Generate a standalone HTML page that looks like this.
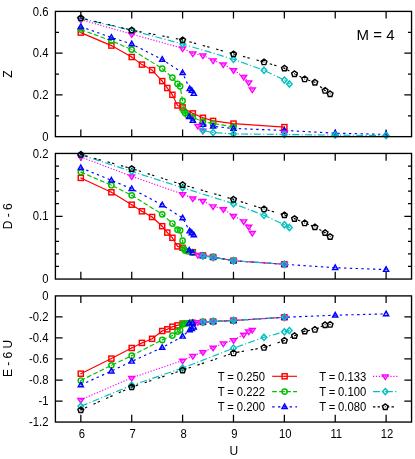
<!DOCTYPE html>
<html><head><meta charset="utf-8"><title>chart</title>
<style>html,body{margin:0;padding:0;background:#fff;}svg text.t, svg text{font-family:"Liberation Sans",sans-serif;fill:#000;}body{width:415px;height:459px;position:relative;overflow:hidden;font-family:"Liberation Sans",sans-serif;}</style>
</head><body>
<svg width="415" height="459" viewBox="0 0 415 459" style="position:absolute;left:0;top:0;will-change:transform">
<rect width="415" height="459" fill="#fff"/>
<path d="M80.84 136.65v-7.2M80.84 11.4v7.2M131.72 136.65v-7.2M131.72 11.4v7.2M182.60 136.65v-7.2M182.60 11.4v7.2M233.48 136.65v-7.2M233.48 11.4v7.2M284.35 136.65v-7.2M284.35 11.4v7.2M335.23 136.65v-7.2M335.23 11.4v7.2M386.11 136.65v-7.2M386.11 11.4v7.2M55.4 94.90h7.2M411.55 94.90h-7.2M55.4 53.15h7.2M411.55 53.15h-7.2M55.4 115.78h3.6M411.55 115.78h-3.6M55.4 74.03h3.6M411.55 74.03h-3.6M55.4 32.28h3.6M411.55 32.28h-3.6" stroke="#000" stroke-width="1.25" fill="none"/>
<text transform="translate(48.50,140.75) scale(0.925,1)" text-anchor="end" class="t" font-size="12.2">0</text>
<text transform="translate(48.50,99.00) scale(0.925,1)" text-anchor="end" class="t" font-size="12.2">0.2</text>
<text transform="translate(48.50,57.25) scale(0.925,1)" text-anchor="end" class="t" font-size="12.2">0.4</text>
<text transform="translate(48.50,15.50) scale(0.925,1)" text-anchor="end" class="t" font-size="12.2">0.6</text>
<path d="M80.8 32.6L111.4 45.6L131.7 57.0L141.9 64.6L152.1 70.1L162.2 81.1L167.3 88.0L172.4 94.8L177.5 105.5L182.6 107.4L192.8 113.4L202.9 117.8L213.1 120.9L233.5 123.6L284.4 127.1" fill="none" stroke="#ff0000" stroke-width="1.15"/>
<rect x="78.25" y="30.05" width="5.1" height="5.1" stroke="#ff0000" stroke-width="1.45" fill="none" stroke-linejoin="miter"/><rect x="80.30" y="32.10" width="1" height="1" fill="#ff0000"/>
<rect x="108.85" y="43.05" width="5.1" height="5.1" stroke="#ff0000" stroke-width="1.45" fill="none" stroke-linejoin="miter"/><rect x="110.90" y="45.10" width="1" height="1" fill="#ff0000"/>
<rect x="129.15" y="54.45" width="5.1" height="5.1" stroke="#ff0000" stroke-width="1.45" fill="none" stroke-linejoin="miter"/><rect x="131.20" y="56.50" width="1" height="1" fill="#ff0000"/>
<rect x="139.35" y="62.05" width="5.1" height="5.1" stroke="#ff0000" stroke-width="1.45" fill="none" stroke-linejoin="miter"/><rect x="141.40" y="64.10" width="1" height="1" fill="#ff0000"/>
<rect x="149.55" y="67.55" width="5.1" height="5.1" stroke="#ff0000" stroke-width="1.45" fill="none" stroke-linejoin="miter"/><rect x="151.60" y="69.60" width="1" height="1" fill="#ff0000"/>
<rect x="159.65" y="78.55" width="5.1" height="5.1" stroke="#ff0000" stroke-width="1.45" fill="none" stroke-linejoin="miter"/><rect x="161.70" y="80.60" width="1" height="1" fill="#ff0000"/>
<rect x="164.75" y="85.45" width="5.1" height="5.1" stroke="#ff0000" stroke-width="1.45" fill="none" stroke-linejoin="miter"/><rect x="166.80" y="87.50" width="1" height="1" fill="#ff0000"/>
<rect x="169.85" y="92.25" width="5.1" height="5.1" stroke="#ff0000" stroke-width="1.45" fill="none" stroke-linejoin="miter"/><rect x="171.90" y="94.30" width="1" height="1" fill="#ff0000"/>
<rect x="174.95" y="102.95" width="5.1" height="5.1" stroke="#ff0000" stroke-width="1.45" fill="none" stroke-linejoin="miter"/><rect x="177.00" y="105.00" width="1" height="1" fill="#ff0000"/>
<rect x="180.05" y="104.85" width="5.1" height="5.1" stroke="#ff0000" stroke-width="1.45" fill="none" stroke-linejoin="miter"/><rect x="182.10" y="106.90" width="1" height="1" fill="#ff0000"/>
<rect x="190.25" y="110.85" width="5.1" height="5.1" stroke="#ff0000" stroke-width="1.45" fill="none" stroke-linejoin="miter"/><rect x="192.30" y="112.90" width="1" height="1" fill="#ff0000"/>
<rect x="200.35" y="115.25" width="5.1" height="5.1" stroke="#ff0000" stroke-width="1.45" fill="none" stroke-linejoin="miter"/><rect x="202.40" y="117.30" width="1" height="1" fill="#ff0000"/>
<rect x="210.55" y="118.35" width="5.1" height="5.1" stroke="#ff0000" stroke-width="1.45" fill="none" stroke-linejoin="miter"/><rect x="212.60" y="120.40" width="1" height="1" fill="#ff0000"/>
<rect x="230.95" y="121.05" width="5.1" height="5.1" stroke="#ff0000" stroke-width="1.45" fill="none" stroke-linejoin="miter"/><rect x="233.00" y="123.10" width="1" height="1" fill="#ff0000"/>
<rect x="281.85" y="124.55" width="5.1" height="5.1" stroke="#ff0000" stroke-width="1.45" fill="none" stroke-linejoin="miter"/><rect x="283.90" y="126.60" width="1" height="1" fill="#ff0000"/>
<path d="M80.8 29.6L111.4 40.8L131.7 49.6L162.2 68.6L172.4 77.6L177.5 83.8L180.1 86.3L182.6 100.8L183.6 110.4L185.1 113.0L187.7 115.3L192.8 117.4L202.9 121.7L213.1 123.5L233.5 126.9" fill="none" stroke="#00c000" stroke-width="1.15" stroke-dasharray="4.7 2.3"/>
<circle cx="80.80" cy="29.60" r="2.65" stroke="#00c000" stroke-width="1.45" fill="none" stroke-linejoin="miter"/><rect x="80.30" y="29.10" width="1" height="1" fill="#00c000"/>
<circle cx="111.40" cy="40.80" r="2.65" stroke="#00c000" stroke-width="1.45" fill="none" stroke-linejoin="miter"/><rect x="110.90" y="40.30" width="1" height="1" fill="#00c000"/>
<circle cx="131.70" cy="49.60" r="2.65" stroke="#00c000" stroke-width="1.45" fill="none" stroke-linejoin="miter"/><rect x="131.20" y="49.10" width="1" height="1" fill="#00c000"/>
<circle cx="162.20" cy="68.60" r="2.65" stroke="#00c000" stroke-width="1.45" fill="none" stroke-linejoin="miter"/><rect x="161.70" y="68.10" width="1" height="1" fill="#00c000"/>
<circle cx="172.40" cy="77.60" r="2.65" stroke="#00c000" stroke-width="1.45" fill="none" stroke-linejoin="miter"/><rect x="171.90" y="77.10" width="1" height="1" fill="#00c000"/>
<circle cx="177.50" cy="83.80" r="2.65" stroke="#00c000" stroke-width="1.45" fill="none" stroke-linejoin="miter"/><rect x="177.00" y="83.30" width="1" height="1" fill="#00c000"/>
<circle cx="180.10" cy="86.30" r="2.65" stroke="#00c000" stroke-width="1.45" fill="none" stroke-linejoin="miter"/><rect x="179.60" y="85.80" width="1" height="1" fill="#00c000"/>
<circle cx="182.60" cy="100.80" r="2.65" stroke="#00c000" stroke-width="1.45" fill="none" stroke-linejoin="miter"/><rect x="182.10" y="100.30" width="1" height="1" fill="#00c000"/>
<circle cx="183.60" cy="110.40" r="2.65" stroke="#00c000" stroke-width="1.45" fill="none" stroke-linejoin="miter"/><rect x="183.10" y="109.90" width="1" height="1" fill="#00c000"/>
<circle cx="185.10" cy="113.00" r="2.65" stroke="#00c000" stroke-width="1.45" fill="none" stroke-linejoin="miter"/><rect x="184.60" y="112.50" width="1" height="1" fill="#00c000"/>
<circle cx="187.70" cy="115.30" r="2.65" stroke="#00c000" stroke-width="1.45" fill="none" stroke-linejoin="miter"/><rect x="187.20" y="114.80" width="1" height="1" fill="#00c000"/>
<circle cx="192.80" cy="117.40" r="2.65" stroke="#00c000" stroke-width="1.45" fill="none" stroke-linejoin="miter"/><rect x="192.30" y="116.90" width="1" height="1" fill="#00c000"/>
<circle cx="202.90" cy="121.70" r="2.65" stroke="#00c000" stroke-width="1.45" fill="none" stroke-linejoin="miter"/><rect x="202.40" y="121.20" width="1" height="1" fill="#00c000"/>
<circle cx="213.10" cy="123.50" r="2.65" stroke="#00c000" stroke-width="1.45" fill="none" stroke-linejoin="miter"/><rect x="212.60" y="123.00" width="1" height="1" fill="#00c000"/>
<circle cx="233.50" cy="126.90" r="2.65" stroke="#00c000" stroke-width="1.45" fill="none" stroke-linejoin="miter"/><rect x="233.00" y="126.40" width="1" height="1" fill="#00c000"/>
<path d="M80.8 26.7L111.4 37.5L131.7 44.0L162.2 59.5L182.6 72.8L189.7 88.8L191.8 90.6L193.8 93.6" fill="none" stroke="#0000ff" stroke-width="1.15" stroke-dasharray="2.4 3.4"/>
<path d="M189.2 116.8L192.8 120.5L202.9 124.4L213.1 126.3L233.5 128.5L284.4 130.4L335.2 133.2L386.1 134.4" fill="none" stroke="#0000ff" stroke-width="1.15" stroke-dasharray="2.4 3.4"/>
<path d="M80.80 23.90L83.35 28.45L78.25 28.45Z" stroke="#0000ff" stroke-width="1.45" fill="none" stroke-linejoin="miter"/><rect x="80.30" y="26.20" width="1" height="1" fill="#0000ff"/>
<path d="M111.40 34.70L113.95 39.25L108.85 39.25Z" stroke="#0000ff" stroke-width="1.45" fill="none" stroke-linejoin="miter"/><rect x="110.90" y="37.00" width="1" height="1" fill="#0000ff"/>
<path d="M131.70 41.20L134.25 45.75L129.15 45.75Z" stroke="#0000ff" stroke-width="1.45" fill="none" stroke-linejoin="miter"/><rect x="131.20" y="43.50" width="1" height="1" fill="#0000ff"/>
<path d="M162.20 56.70L164.75 61.25L159.65 61.25Z" stroke="#0000ff" stroke-width="1.45" fill="none" stroke-linejoin="miter"/><rect x="161.70" y="59.00" width="1" height="1" fill="#0000ff"/>
<path d="M182.60 70.00L185.15 74.55L180.05 74.55Z" stroke="#0000ff" stroke-width="1.45" fill="none" stroke-linejoin="miter"/><rect x="182.10" y="72.30" width="1" height="1" fill="#0000ff"/>
<path d="M189.70 86.00L192.25 90.55L187.15 90.55Z" stroke="#0000ff" stroke-width="1.45" fill="none" stroke-linejoin="miter"/><rect x="189.20" y="88.30" width="1" height="1" fill="#0000ff"/>
<path d="M191.80 87.80L194.35 92.35L189.25 92.35Z" stroke="#0000ff" stroke-width="1.45" fill="none" stroke-linejoin="miter"/><rect x="191.30" y="90.10" width="1" height="1" fill="#0000ff"/>
<path d="M193.80 90.80L196.35 95.35L191.25 95.35Z" stroke="#0000ff" stroke-width="1.45" fill="none" stroke-linejoin="miter"/><rect x="193.30" y="93.10" width="1" height="1" fill="#0000ff"/>
<path d="M189.20 114.00L191.75 118.55L186.65 118.55Z" stroke="#0000ff" stroke-width="1.45" fill="none" stroke-linejoin="miter"/><rect x="188.70" y="116.30" width="1" height="1" fill="#0000ff"/>
<path d="M192.80 117.70L195.35 122.25L190.25 122.25Z" stroke="#0000ff" stroke-width="1.45" fill="none" stroke-linejoin="miter"/><rect x="192.30" y="120.00" width="1" height="1" fill="#0000ff"/>
<path d="M202.90 121.60L205.45 126.15L200.35 126.15Z" stroke="#0000ff" stroke-width="1.45" fill="none" stroke-linejoin="miter"/><rect x="202.40" y="123.90" width="1" height="1" fill="#0000ff"/>
<path d="M213.10 123.50L215.65 128.05L210.55 128.05Z" stroke="#0000ff" stroke-width="1.45" fill="none" stroke-linejoin="miter"/><rect x="212.60" y="125.80" width="1" height="1" fill="#0000ff"/>
<path d="M233.50 125.70L236.05 130.25L230.95 130.25Z" stroke="#0000ff" stroke-width="1.45" fill="none" stroke-linejoin="miter"/><rect x="233.00" y="128.00" width="1" height="1" fill="#0000ff"/>
<path d="M284.40 127.60L286.95 132.15L281.85 132.15Z" stroke="#0000ff" stroke-width="1.45" fill="none" stroke-linejoin="miter"/><rect x="283.90" y="129.90" width="1" height="1" fill="#0000ff"/>
<path d="M335.20 130.40L337.75 134.95L332.65 134.95Z" stroke="#0000ff" stroke-width="1.45" fill="none" stroke-linejoin="miter"/><rect x="334.70" y="132.70" width="1" height="1" fill="#0000ff"/>
<path d="M386.10 131.60L388.65 136.15L383.55 136.15Z" stroke="#0000ff" stroke-width="1.45" fill="none" stroke-linejoin="miter"/><rect x="385.60" y="133.90" width="1" height="1" fill="#0000ff"/>
<path d="M80.8 19.6L131.7 34.1L182.6 48.3L192.8 53.4L202.9 55.4L213.1 60.4L223.3 64.3L233.5 70.1L243.7 76.8L248.7 82.2L252.3 89.4" fill="none" stroke="#ff00ff" stroke-width="1.15" stroke-dasharray="1.2 1.7"/>
<path d="M197.9 125.7L202.9 130.6" fill="none" stroke="#ff00ff" stroke-width="1.15" stroke-dasharray="1.2 1.7"/>
<path d="M80.80 22.75L83.75 18.25L77.85 18.25Z" stroke="#ff00ff" stroke-width="1.45" fill="none" stroke-linejoin="miter"/><rect x="80.30" y="19.10" width="1" height="1" fill="#ff00ff"/>
<path d="M131.70 37.25L134.65 32.75L128.75 32.75Z" stroke="#ff00ff" stroke-width="1.45" fill="none" stroke-linejoin="miter"/><rect x="131.20" y="33.60" width="1" height="1" fill="#ff00ff"/>
<path d="M182.60 51.45L185.55 46.95L179.65 46.95Z" stroke="#ff00ff" stroke-width="1.45" fill="none" stroke-linejoin="miter"/><rect x="182.10" y="47.80" width="1" height="1" fill="#ff00ff"/>
<path d="M192.80 56.55L195.75 52.05L189.85 52.05Z" stroke="#ff00ff" stroke-width="1.45" fill="none" stroke-linejoin="miter"/><rect x="192.30" y="52.90" width="1" height="1" fill="#ff00ff"/>
<path d="M202.90 58.55L205.85 54.05L199.95 54.05Z" stroke="#ff00ff" stroke-width="1.45" fill="none" stroke-linejoin="miter"/><rect x="202.40" y="54.90" width="1" height="1" fill="#ff00ff"/>
<path d="M213.10 63.55L216.05 59.05L210.15 59.05Z" stroke="#ff00ff" stroke-width="1.45" fill="none" stroke-linejoin="miter"/><rect x="212.60" y="59.90" width="1" height="1" fill="#ff00ff"/>
<path d="M223.30 67.45L226.25 62.95L220.35 62.95Z" stroke="#ff00ff" stroke-width="1.45" fill="none" stroke-linejoin="miter"/><rect x="222.80" y="63.80" width="1" height="1" fill="#ff00ff"/>
<path d="M233.50 73.25L236.45 68.75L230.55 68.75Z" stroke="#ff00ff" stroke-width="1.45" fill="none" stroke-linejoin="miter"/><rect x="233.00" y="69.60" width="1" height="1" fill="#ff00ff"/>
<path d="M243.70 79.95L246.65 75.45L240.75 75.45Z" stroke="#ff00ff" stroke-width="1.45" fill="none" stroke-linejoin="miter"/><rect x="243.20" y="76.30" width="1" height="1" fill="#ff00ff"/>
<path d="M248.70 85.35L251.65 80.85L245.75 80.85Z" stroke="#ff00ff" stroke-width="1.45" fill="none" stroke-linejoin="miter"/><rect x="248.20" y="81.70" width="1" height="1" fill="#ff00ff"/>
<path d="M252.30 92.55L255.25 88.05L249.35 88.05Z" stroke="#ff00ff" stroke-width="1.45" fill="none" stroke-linejoin="miter"/><rect x="251.80" y="88.90" width="1" height="1" fill="#ff00ff"/>
<path d="M197.90 128.85L200.85 124.35L194.95 124.35Z" stroke="#ff00ff" stroke-width="1.45" fill="none" stroke-linejoin="miter"/><rect x="197.40" y="125.20" width="1" height="1" fill="#ff00ff"/>
<path d="M202.90 133.75L205.85 129.25L199.95 129.25Z" stroke="#ff00ff" stroke-width="1.45" fill="none" stroke-linejoin="miter"/><rect x="202.40" y="130.10" width="1" height="1" fill="#ff00ff"/>
<path d="M284.40 135.75L287.35 131.25L281.45 131.25Z" stroke="#ff00ff" stroke-width="1.45" fill="none" stroke-linejoin="miter"/><rect x="283.90" y="132.10" width="1" height="1" fill="#ff00ff"/>
<path d="M80.8 18.4L131.7 30.4L182.6 44.0L233.5 59.3L264.0 70.3L284.4 80.1L289.4 84.0" fill="none" stroke="#00c0c0" stroke-width="1.15" stroke-dasharray="7.0 2.3 1.2 2.3"/>
<path d="M202.9 130.5L213.1 132.6L233.5 133.9L284.4 134.5L335.2 135.1L386.1 135.5" fill="none" stroke="#00c0c0" stroke-width="1.15" stroke-dasharray="7.0 2.3 1.2 2.3"/>
<path d="M80.80 15.30L83.55 18.40L80.80 21.50L78.05 18.40Z" stroke="#00c0c0" stroke-width="1.45" fill="none" stroke-linejoin="miter"/><rect x="80.30" y="17.90" width="1" height="1" fill="#00c0c0"/>
<path d="M131.70 27.30L134.45 30.40L131.70 33.50L128.95 30.40Z" stroke="#00c0c0" stroke-width="1.45" fill="none" stroke-linejoin="miter"/><rect x="131.20" y="29.90" width="1" height="1" fill="#00c0c0"/>
<path d="M182.60 40.90L185.35 44.00L182.60 47.10L179.85 44.00Z" stroke="#00c0c0" stroke-width="1.45" fill="none" stroke-linejoin="miter"/><rect x="182.10" y="43.50" width="1" height="1" fill="#00c0c0"/>
<path d="M233.50 56.20L236.25 59.30L233.50 62.40L230.75 59.30Z" stroke="#00c0c0" stroke-width="1.45" fill="none" stroke-linejoin="miter"/><rect x="233.00" y="58.80" width="1" height="1" fill="#00c0c0"/>
<path d="M264.00 67.20L266.75 70.30L264.00 73.40L261.25 70.30Z" stroke="#00c0c0" stroke-width="1.45" fill="none" stroke-linejoin="miter"/><rect x="263.50" y="69.80" width="1" height="1" fill="#00c0c0"/>
<path d="M284.40 77.00L287.15 80.10L284.40 83.20L281.65 80.10Z" stroke="#00c0c0" stroke-width="1.45" fill="none" stroke-linejoin="miter"/><rect x="283.90" y="79.60" width="1" height="1" fill="#00c0c0"/>
<path d="M289.40 80.90L292.15 84.00L289.40 87.10L286.65 84.00Z" stroke="#00c0c0" stroke-width="1.45" fill="none" stroke-linejoin="miter"/><rect x="288.90" y="83.50" width="1" height="1" fill="#00c0c0"/>
<path d="M202.90 127.40L205.65 130.50L202.90 133.60L200.15 130.50Z" stroke="#00c0c0" stroke-width="1.45" fill="none" stroke-linejoin="miter"/><rect x="202.40" y="130.00" width="1" height="1" fill="#00c0c0"/>
<path d="M213.10 129.50L215.85 132.60L213.10 135.70L210.35 132.60Z" stroke="#00c0c0" stroke-width="1.45" fill="none" stroke-linejoin="miter"/><rect x="212.60" y="132.10" width="1" height="1" fill="#00c0c0"/>
<path d="M233.50 130.80L236.25 133.90L233.50 137.00L230.75 133.90Z" stroke="#00c0c0" stroke-width="1.45" fill="none" stroke-linejoin="miter"/><rect x="233.00" y="133.40" width="1" height="1" fill="#00c0c0"/>
<path d="M284.40 131.40L287.15 134.50L284.40 137.60L281.65 134.50Z" stroke="#00c0c0" stroke-width="1.45" fill="none" stroke-linejoin="miter"/><rect x="283.90" y="134.00" width="1" height="1" fill="#00c0c0"/>
<path d="M335.20 132.00L337.95 135.10L335.20 138.20L332.45 135.10Z" stroke="#00c0c0" stroke-width="1.45" fill="none" stroke-linejoin="miter"/><rect x="334.70" y="134.60" width="1" height="1" fill="#00c0c0"/>
<path d="M386.10 132.40L388.85 135.50L386.10 138.60L383.35 135.50Z" stroke="#00c0c0" stroke-width="1.45" fill="none" stroke-linejoin="miter"/><rect x="385.60" y="135.00" width="1" height="1" fill="#00c0c0"/>
<path d="M80.8 18.0L131.7 30.1L182.6 39.9L233.5 53.9L264.0 62.0L284.4 68.2L294.5 73.8L304.7 79.0L314.9 82.3L325.1 90.5L330.1 93.8" fill="none" stroke="#000000" stroke-width="1.15" stroke-dasharray="2.4 2.2 2.4 6.9"/>
<path d="M80.80 15.20L83.65 17.27L82.56 20.63L79.04 20.63L77.95 17.27Z" stroke="#000000" stroke-width="1.45" fill="none" stroke-linejoin="miter"/><rect x="80.30" y="17.50" width="1" height="1" fill="#000000"/>
<path d="M131.70 27.30L134.55 29.37L133.46 32.73L129.94 32.73L128.85 29.37Z" stroke="#000000" stroke-width="1.45" fill="none" stroke-linejoin="miter"/><rect x="131.20" y="29.60" width="1" height="1" fill="#000000"/>
<path d="M182.60 37.10L185.45 39.17L184.36 42.53L180.84 42.53L179.75 39.17Z" stroke="#000000" stroke-width="1.45" fill="none" stroke-linejoin="miter"/><rect x="182.10" y="39.40" width="1" height="1" fill="#000000"/>
<path d="M233.50 51.10L236.35 53.17L235.26 56.53L231.74 56.53L230.65 53.17Z" stroke="#000000" stroke-width="1.45" fill="none" stroke-linejoin="miter"/><rect x="233.00" y="53.40" width="1" height="1" fill="#000000"/>
<path d="M264.00 59.20L266.85 61.27L265.76 64.63L262.24 64.63L261.15 61.27Z" stroke="#000000" stroke-width="1.45" fill="none" stroke-linejoin="miter"/><rect x="263.50" y="61.50" width="1" height="1" fill="#000000"/>
<path d="M284.40 65.40L287.25 67.47L286.16 70.83L282.64 70.83L281.55 67.47Z" stroke="#000000" stroke-width="1.45" fill="none" stroke-linejoin="miter"/><rect x="283.90" y="67.70" width="1" height="1" fill="#000000"/>
<path d="M294.50 71.00L297.35 73.07L296.26 76.43L292.74 76.43L291.65 73.07Z" stroke="#000000" stroke-width="1.45" fill="none" stroke-linejoin="miter"/><rect x="294.00" y="73.30" width="1" height="1" fill="#000000"/>
<path d="M304.70 76.20L307.55 78.27L306.46 81.63L302.94 81.63L301.85 78.27Z" stroke="#000000" stroke-width="1.45" fill="none" stroke-linejoin="miter"/><rect x="304.20" y="78.50" width="1" height="1" fill="#000000"/>
<path d="M314.90 79.50L317.75 81.57L316.66 84.93L313.14 84.93L312.05 81.57Z" stroke="#000000" stroke-width="1.45" fill="none" stroke-linejoin="miter"/><rect x="314.40" y="81.80" width="1" height="1" fill="#000000"/>
<path d="M325.10 87.70L327.95 89.77L326.86 93.13L323.34 93.13L322.25 89.77Z" stroke="#000000" stroke-width="1.45" fill="none" stroke-linejoin="miter"/><rect x="324.60" y="90.00" width="1" height="1" fill="#000000"/>
<path d="M330.10 91.00L332.95 93.07L331.86 96.43L328.34 96.43L327.25 93.07Z" stroke="#000000" stroke-width="1.45" fill="none" stroke-linejoin="miter"/><rect x="329.60" y="93.30" width="1" height="1" fill="#000000"/>
<path d="M80.84 279.05v-7.2M80.84 153.45v7.2M131.72 279.05v-7.2M131.72 153.45v7.2M182.60 279.05v-7.2M182.60 153.45v7.2M233.48 279.05v-7.2M233.48 153.45v7.2M284.35 279.05v-7.2M284.35 153.45v7.2M335.23 279.05v-7.2M335.23 153.45v7.2M386.11 279.05v-7.2M386.11 153.45v7.2M55.4 216.25h7.2M411.55 216.25h-7.2M55.4 266.49h3.6M411.55 266.49h-3.6M55.4 253.93h3.6M411.55 253.93h-3.6M55.4 241.37h3.6M411.55 241.37h-3.6M55.4 228.81h3.6M411.55 228.81h-3.6M55.4 203.69h3.6M411.55 203.69h-3.6M55.4 191.13h3.6M411.55 191.13h-3.6M55.4 178.57h3.6M411.55 178.57h-3.6M55.4 166.01h3.6M411.55 166.01h-3.6" stroke="#000" stroke-width="1.25" fill="none"/>
<text transform="translate(48.50,283.15) scale(0.925,1)" text-anchor="end" class="t" font-size="12.2">0</text>
<text transform="translate(48.50,220.35) scale(0.925,1)" text-anchor="end" class="t" font-size="12.2">0.1</text>
<text transform="translate(48.50,157.55) scale(0.925,1)" text-anchor="end" class="t" font-size="12.2">0.2</text>
<path d="M80.8 177.9L111.4 192.3L131.7 204.7L141.9 211.3L152.1 217.0L162.2 226.2L167.3 232.6L172.4 237.8L177.5 246.4L182.6 247.8L192.8 252.2L202.9 255.4L213.1 257.0L233.5 260.7L284.4 264.3" fill="none" stroke="#ff0000" stroke-width="1.15"/>
<rect x="78.25" y="175.35" width="5.1" height="5.1" stroke="#ff0000" stroke-width="1.45" fill="none" stroke-linejoin="miter"/><rect x="80.30" y="177.40" width="1" height="1" fill="#ff0000"/>
<rect x="108.85" y="189.75" width="5.1" height="5.1" stroke="#ff0000" stroke-width="1.45" fill="none" stroke-linejoin="miter"/><rect x="110.90" y="191.80" width="1" height="1" fill="#ff0000"/>
<rect x="129.15" y="202.15" width="5.1" height="5.1" stroke="#ff0000" stroke-width="1.45" fill="none" stroke-linejoin="miter"/><rect x="131.20" y="204.20" width="1" height="1" fill="#ff0000"/>
<rect x="139.35" y="208.75" width="5.1" height="5.1" stroke="#ff0000" stroke-width="1.45" fill="none" stroke-linejoin="miter"/><rect x="141.40" y="210.80" width="1" height="1" fill="#ff0000"/>
<rect x="149.55" y="214.45" width="5.1" height="5.1" stroke="#ff0000" stroke-width="1.45" fill="none" stroke-linejoin="miter"/><rect x="151.60" y="216.50" width="1" height="1" fill="#ff0000"/>
<rect x="159.65" y="223.65" width="5.1" height="5.1" stroke="#ff0000" stroke-width="1.45" fill="none" stroke-linejoin="miter"/><rect x="161.70" y="225.70" width="1" height="1" fill="#ff0000"/>
<rect x="164.75" y="230.05" width="5.1" height="5.1" stroke="#ff0000" stroke-width="1.45" fill="none" stroke-linejoin="miter"/><rect x="166.80" y="232.10" width="1" height="1" fill="#ff0000"/>
<rect x="169.85" y="235.25" width="5.1" height="5.1" stroke="#ff0000" stroke-width="1.45" fill="none" stroke-linejoin="miter"/><rect x="171.90" y="237.30" width="1" height="1" fill="#ff0000"/>
<rect x="174.95" y="243.85" width="5.1" height="5.1" stroke="#ff0000" stroke-width="1.45" fill="none" stroke-linejoin="miter"/><rect x="177.00" y="245.90" width="1" height="1" fill="#ff0000"/>
<rect x="180.05" y="245.25" width="5.1" height="5.1" stroke="#ff0000" stroke-width="1.45" fill="none" stroke-linejoin="miter"/><rect x="182.10" y="247.30" width="1" height="1" fill="#ff0000"/>
<rect x="190.25" y="249.65" width="5.1" height="5.1" stroke="#ff0000" stroke-width="1.45" fill="none" stroke-linejoin="miter"/><rect x="192.30" y="251.70" width="1" height="1" fill="#ff0000"/>
<rect x="200.35" y="252.85" width="5.1" height="5.1" stroke="#ff0000" stroke-width="1.45" fill="none" stroke-linejoin="miter"/><rect x="202.40" y="254.90" width="1" height="1" fill="#ff0000"/>
<rect x="210.55" y="254.45" width="5.1" height="5.1" stroke="#ff0000" stroke-width="1.45" fill="none" stroke-linejoin="miter"/><rect x="212.60" y="256.50" width="1" height="1" fill="#ff0000"/>
<rect x="230.95" y="258.15" width="5.1" height="5.1" stroke="#ff0000" stroke-width="1.45" fill="none" stroke-linejoin="miter"/><rect x="233.00" y="260.20" width="1" height="1" fill="#ff0000"/>
<rect x="281.85" y="261.75" width="5.1" height="5.1" stroke="#ff0000" stroke-width="1.45" fill="none" stroke-linejoin="miter"/><rect x="283.90" y="263.80" width="1" height="1" fill="#ff0000"/>
<path d="M80.8 172.1L111.4 185.2L131.7 195.3L162.2 214.3L172.4 223.5L177.5 229.7L180.1 230.3L182.6 240.7L183.6 248.4L185.1 250.5L187.7 251.3L192.8 252.6L202.9 255.6L213.1 257.2L233.5 260.7" fill="none" stroke="#00c000" stroke-width="1.15" stroke-dasharray="4.7 2.3"/>
<circle cx="80.80" cy="172.10" r="2.65" stroke="#00c000" stroke-width="1.45" fill="none" stroke-linejoin="miter"/><rect x="80.30" y="171.60" width="1" height="1" fill="#00c000"/>
<circle cx="111.40" cy="185.20" r="2.65" stroke="#00c000" stroke-width="1.45" fill="none" stroke-linejoin="miter"/><rect x="110.90" y="184.70" width="1" height="1" fill="#00c000"/>
<circle cx="131.70" cy="195.30" r="2.65" stroke="#00c000" stroke-width="1.45" fill="none" stroke-linejoin="miter"/><rect x="131.20" y="194.80" width="1" height="1" fill="#00c000"/>
<circle cx="162.20" cy="214.30" r="2.65" stroke="#00c000" stroke-width="1.45" fill="none" stroke-linejoin="miter"/><rect x="161.70" y="213.80" width="1" height="1" fill="#00c000"/>
<circle cx="172.40" cy="223.50" r="2.65" stroke="#00c000" stroke-width="1.45" fill="none" stroke-linejoin="miter"/><rect x="171.90" y="223.00" width="1" height="1" fill="#00c000"/>
<circle cx="177.50" cy="229.70" r="2.65" stroke="#00c000" stroke-width="1.45" fill="none" stroke-linejoin="miter"/><rect x="177.00" y="229.20" width="1" height="1" fill="#00c000"/>
<circle cx="180.10" cy="230.30" r="2.65" stroke="#00c000" stroke-width="1.45" fill="none" stroke-linejoin="miter"/><rect x="179.60" y="229.80" width="1" height="1" fill="#00c000"/>
<circle cx="182.60" cy="240.70" r="2.65" stroke="#00c000" stroke-width="1.45" fill="none" stroke-linejoin="miter"/><rect x="182.10" y="240.20" width="1" height="1" fill="#00c000"/>
<circle cx="183.60" cy="248.40" r="2.65" stroke="#00c000" stroke-width="1.45" fill="none" stroke-linejoin="miter"/><rect x="183.10" y="247.90" width="1" height="1" fill="#00c000"/>
<circle cx="185.10" cy="250.50" r="2.65" stroke="#00c000" stroke-width="1.45" fill="none" stroke-linejoin="miter"/><rect x="184.60" y="250.00" width="1" height="1" fill="#00c000"/>
<circle cx="187.70" cy="251.30" r="2.65" stroke="#00c000" stroke-width="1.45" fill="none" stroke-linejoin="miter"/><rect x="187.20" y="250.80" width="1" height="1" fill="#00c000"/>
<circle cx="192.80" cy="252.60" r="2.65" stroke="#00c000" stroke-width="1.45" fill="none" stroke-linejoin="miter"/><rect x="192.30" y="252.10" width="1" height="1" fill="#00c000"/>
<circle cx="202.90" cy="255.60" r="2.65" stroke="#00c000" stroke-width="1.45" fill="none" stroke-linejoin="miter"/><rect x="202.40" y="255.10" width="1" height="1" fill="#00c000"/>
<circle cx="213.10" cy="257.20" r="2.65" stroke="#00c000" stroke-width="1.45" fill="none" stroke-linejoin="miter"/><rect x="212.60" y="256.70" width="1" height="1" fill="#00c000"/>
<circle cx="233.50" cy="260.70" r="2.65" stroke="#00c000" stroke-width="1.45" fill="none" stroke-linejoin="miter"/><rect x="233.00" y="260.20" width="1" height="1" fill="#00c000"/>
<path d="M80.8 167.8L111.4 180.3L131.7 188.8L162.2 205.0L182.6 218.0L189.7 231.1L191.8 232.9L193.8 235.0" fill="none" stroke="#0000ff" stroke-width="1.15" stroke-dasharray="2.4 3.4"/>
<path d="M189.2 250.3L192.8 252.7L202.9 255.8L213.1 257.3L233.5 260.7L284.4 264.3L335.2 267.7L386.1 269.6" fill="none" stroke="#0000ff" stroke-width="1.15" stroke-dasharray="2.4 3.4"/>
<path d="M80.80 165.00L83.35 169.55L78.25 169.55Z" stroke="#0000ff" stroke-width="1.45" fill="none" stroke-linejoin="miter"/><rect x="80.30" y="167.30" width="1" height="1" fill="#0000ff"/>
<path d="M111.40 177.50L113.95 182.05L108.85 182.05Z" stroke="#0000ff" stroke-width="1.45" fill="none" stroke-linejoin="miter"/><rect x="110.90" y="179.80" width="1" height="1" fill="#0000ff"/>
<path d="M131.70 186.00L134.25 190.55L129.15 190.55Z" stroke="#0000ff" stroke-width="1.45" fill="none" stroke-linejoin="miter"/><rect x="131.20" y="188.30" width="1" height="1" fill="#0000ff"/>
<path d="M162.20 202.20L164.75 206.75L159.65 206.75Z" stroke="#0000ff" stroke-width="1.45" fill="none" stroke-linejoin="miter"/><rect x="161.70" y="204.50" width="1" height="1" fill="#0000ff"/>
<path d="M182.60 215.20L185.15 219.75L180.05 219.75Z" stroke="#0000ff" stroke-width="1.45" fill="none" stroke-linejoin="miter"/><rect x="182.10" y="217.50" width="1" height="1" fill="#0000ff"/>
<path d="M189.70 228.30L192.25 232.85L187.15 232.85Z" stroke="#0000ff" stroke-width="1.45" fill="none" stroke-linejoin="miter"/><rect x="189.20" y="230.60" width="1" height="1" fill="#0000ff"/>
<path d="M191.80 230.10L194.35 234.65L189.25 234.65Z" stroke="#0000ff" stroke-width="1.45" fill="none" stroke-linejoin="miter"/><rect x="191.30" y="232.40" width="1" height="1" fill="#0000ff"/>
<path d="M193.80 232.20L196.35 236.75L191.25 236.75Z" stroke="#0000ff" stroke-width="1.45" fill="none" stroke-linejoin="miter"/><rect x="193.30" y="234.50" width="1" height="1" fill="#0000ff"/>
<path d="M189.20 247.50L191.75 252.05L186.65 252.05Z" stroke="#0000ff" stroke-width="1.45" fill="none" stroke-linejoin="miter"/><rect x="188.70" y="249.80" width="1" height="1" fill="#0000ff"/>
<path d="M192.80 249.90L195.35 254.45L190.25 254.45Z" stroke="#0000ff" stroke-width="1.45" fill="none" stroke-linejoin="miter"/><rect x="192.30" y="252.20" width="1" height="1" fill="#0000ff"/>
<path d="M202.90 253.00L205.45 257.55L200.35 257.55Z" stroke="#0000ff" stroke-width="1.45" fill="none" stroke-linejoin="miter"/><rect x="202.40" y="255.30" width="1" height="1" fill="#0000ff"/>
<path d="M213.10 254.50L215.65 259.05L210.55 259.05Z" stroke="#0000ff" stroke-width="1.45" fill="none" stroke-linejoin="miter"/><rect x="212.60" y="256.80" width="1" height="1" fill="#0000ff"/>
<path d="M233.50 257.90L236.05 262.45L230.95 262.45Z" stroke="#0000ff" stroke-width="1.45" fill="none" stroke-linejoin="miter"/><rect x="233.00" y="260.20" width="1" height="1" fill="#0000ff"/>
<path d="M284.40 261.50L286.95 266.05L281.85 266.05Z" stroke="#0000ff" stroke-width="1.45" fill="none" stroke-linejoin="miter"/><rect x="283.90" y="263.80" width="1" height="1" fill="#0000ff"/>
<path d="M335.20 264.90L337.75 269.45L332.65 269.45Z" stroke="#0000ff" stroke-width="1.45" fill="none" stroke-linejoin="miter"/><rect x="334.70" y="267.20" width="1" height="1" fill="#0000ff"/>
<path d="M386.10 266.80L388.65 271.35L383.55 271.35Z" stroke="#0000ff" stroke-width="1.45" fill="none" stroke-linejoin="miter"/><rect x="385.60" y="269.10" width="1" height="1" fill="#0000ff"/>
<path d="M80.8 156.9L131.7 176.3L182.6 194.1L192.8 198.3L202.9 200.8L213.1 206.2L223.3 209.1L233.5 215.8L243.7 221.2L248.7 226.5L252.3 232.8" fill="none" stroke="#ff00ff" stroke-width="1.15" stroke-dasharray="1.2 1.7"/>
<path d="M197.9 254.9L202.9 255.9L213.1 257.3L233.5 260.7L284.4 264.3" fill="none" stroke="#ff00ff" stroke-width="1.15" stroke-dasharray="1.2 1.7"/>
<path d="M80.80 160.05L83.75 155.55L77.85 155.55Z" stroke="#ff00ff" stroke-width="1.45" fill="none" stroke-linejoin="miter"/><rect x="80.30" y="156.40" width="1" height="1" fill="#ff00ff"/>
<path d="M131.70 179.45L134.65 174.95L128.75 174.95Z" stroke="#ff00ff" stroke-width="1.45" fill="none" stroke-linejoin="miter"/><rect x="131.20" y="175.80" width="1" height="1" fill="#ff00ff"/>
<path d="M182.60 197.25L185.55 192.75L179.65 192.75Z" stroke="#ff00ff" stroke-width="1.45" fill="none" stroke-linejoin="miter"/><rect x="182.10" y="193.60" width="1" height="1" fill="#ff00ff"/>
<path d="M192.80 201.45L195.75 196.95L189.85 196.95Z" stroke="#ff00ff" stroke-width="1.45" fill="none" stroke-linejoin="miter"/><rect x="192.30" y="197.80" width="1" height="1" fill="#ff00ff"/>
<path d="M202.90 203.95L205.85 199.45L199.95 199.45Z" stroke="#ff00ff" stroke-width="1.45" fill="none" stroke-linejoin="miter"/><rect x="202.40" y="200.30" width="1" height="1" fill="#ff00ff"/>
<path d="M213.10 209.35L216.05 204.85L210.15 204.85Z" stroke="#ff00ff" stroke-width="1.45" fill="none" stroke-linejoin="miter"/><rect x="212.60" y="205.70" width="1" height="1" fill="#ff00ff"/>
<path d="M223.30 212.25L226.25 207.75L220.35 207.75Z" stroke="#ff00ff" stroke-width="1.45" fill="none" stroke-linejoin="miter"/><rect x="222.80" y="208.60" width="1" height="1" fill="#ff00ff"/>
<path d="M233.50 218.95L236.45 214.45L230.55 214.45Z" stroke="#ff00ff" stroke-width="1.45" fill="none" stroke-linejoin="miter"/><rect x="233.00" y="215.30" width="1" height="1" fill="#ff00ff"/>
<path d="M243.70 224.35L246.65 219.85L240.75 219.85Z" stroke="#ff00ff" stroke-width="1.45" fill="none" stroke-linejoin="miter"/><rect x="243.20" y="220.70" width="1" height="1" fill="#ff00ff"/>
<path d="M248.70 229.65L251.65 225.15L245.75 225.15Z" stroke="#ff00ff" stroke-width="1.45" fill="none" stroke-linejoin="miter"/><rect x="248.20" y="226.00" width="1" height="1" fill="#ff00ff"/>
<path d="M252.30 235.95L255.25 231.45L249.35 231.45Z" stroke="#ff00ff" stroke-width="1.45" fill="none" stroke-linejoin="miter"/><rect x="251.80" y="232.30" width="1" height="1" fill="#ff00ff"/>
<path d="M197.90 258.05L200.85 253.55L194.95 253.55Z" stroke="#ff00ff" stroke-width="1.45" fill="none" stroke-linejoin="miter"/><rect x="197.40" y="254.40" width="1" height="1" fill="#ff00ff"/>
<path d="M202.90 259.05L205.85 254.55L199.95 254.55Z" stroke="#ff00ff" stroke-width="1.45" fill="none" stroke-linejoin="miter"/><rect x="202.40" y="255.40" width="1" height="1" fill="#ff00ff"/>
<path d="M213.10 260.45L216.05 255.95L210.15 255.95Z" stroke="#ff00ff" stroke-width="1.45" fill="none" stroke-linejoin="miter"/><rect x="212.60" y="256.80" width="1" height="1" fill="#ff00ff"/>
<path d="M233.50 263.85L236.45 259.35L230.55 259.35Z" stroke="#ff00ff" stroke-width="1.45" fill="none" stroke-linejoin="miter"/><rect x="233.00" y="260.20" width="1" height="1" fill="#ff00ff"/>
<path d="M284.40 267.45L287.35 262.95L281.45 262.95Z" stroke="#ff00ff" stroke-width="1.45" fill="none" stroke-linejoin="miter"/><rect x="283.90" y="263.80" width="1" height="1" fill="#ff00ff"/>
<path d="M80.8 154.7L131.7 171.4L182.6 187.7L233.5 203.7L264.0 215.3L284.4 224.7L289.4 227.5" fill="none" stroke="#00c0c0" stroke-width="1.15" stroke-dasharray="7.0 2.3 1.2 2.3"/>
<path d="M202.9 256.0L213.1 257.4L233.5 260.7L284.4 264.3" fill="none" stroke="#00c0c0" stroke-width="1.15" stroke-dasharray="7.0 2.3 1.2 2.3"/>
<path d="M80.80 151.60L83.55 154.70L80.80 157.80L78.05 154.70Z" stroke="#00c0c0" stroke-width="1.45" fill="none" stroke-linejoin="miter"/><rect x="80.30" y="154.20" width="1" height="1" fill="#00c0c0"/>
<path d="M131.70 168.30L134.45 171.40L131.70 174.50L128.95 171.40Z" stroke="#00c0c0" stroke-width="1.45" fill="none" stroke-linejoin="miter"/><rect x="131.20" y="170.90" width="1" height="1" fill="#00c0c0"/>
<path d="M182.60 184.60L185.35 187.70L182.60 190.80L179.85 187.70Z" stroke="#00c0c0" stroke-width="1.45" fill="none" stroke-linejoin="miter"/><rect x="182.10" y="187.20" width="1" height="1" fill="#00c0c0"/>
<path d="M233.50 200.60L236.25 203.70L233.50 206.80L230.75 203.70Z" stroke="#00c0c0" stroke-width="1.45" fill="none" stroke-linejoin="miter"/><rect x="233.00" y="203.20" width="1" height="1" fill="#00c0c0"/>
<path d="M264.00 212.20L266.75 215.30L264.00 218.40L261.25 215.30Z" stroke="#00c0c0" stroke-width="1.45" fill="none" stroke-linejoin="miter"/><rect x="263.50" y="214.80" width="1" height="1" fill="#00c0c0"/>
<path d="M284.40 221.60L287.15 224.70L284.40 227.80L281.65 224.70Z" stroke="#00c0c0" stroke-width="1.45" fill="none" stroke-linejoin="miter"/><rect x="283.90" y="224.20" width="1" height="1" fill="#00c0c0"/>
<path d="M289.40 224.40L292.15 227.50L289.40 230.60L286.65 227.50Z" stroke="#00c0c0" stroke-width="1.45" fill="none" stroke-linejoin="miter"/><rect x="288.90" y="227.00" width="1" height="1" fill="#00c0c0"/>
<path d="M202.90 252.90L205.65 256.00L202.90 259.10L200.15 256.00Z" stroke="#00c0c0" stroke-width="1.45" fill="none" stroke-linejoin="miter"/><rect x="202.40" y="255.50" width="1" height="1" fill="#00c0c0"/>
<path d="M213.10 254.30L215.85 257.40L213.10 260.50L210.35 257.40Z" stroke="#00c0c0" stroke-width="1.45" fill="none" stroke-linejoin="miter"/><rect x="212.60" y="256.90" width="1" height="1" fill="#00c0c0"/>
<path d="M233.50 257.60L236.25 260.70L233.50 263.80L230.75 260.70Z" stroke="#00c0c0" stroke-width="1.45" fill="none" stroke-linejoin="miter"/><rect x="233.00" y="260.20" width="1" height="1" fill="#00c0c0"/>
<path d="M284.40 261.20L287.15 264.30L284.40 267.40L281.65 264.30Z" stroke="#00c0c0" stroke-width="1.45" fill="none" stroke-linejoin="miter"/><rect x="283.90" y="263.80" width="1" height="1" fill="#00c0c0"/>
<path d="M80.8 154.5L131.7 168.6L182.6 184.7L233.5 199.3L264.0 209.0L284.4 214.9L294.5 218.6L304.7 223.0L314.9 226.9L325.1 232.7L330.1 236.6" fill="none" stroke="#000000" stroke-width="1.15" stroke-dasharray="2.4 2.2 2.4 6.9"/>
<path d="M80.80 151.70L83.65 153.77L82.56 157.13L79.04 157.13L77.95 153.77Z" stroke="#000000" stroke-width="1.45" fill="none" stroke-linejoin="miter"/><rect x="80.30" y="154.00" width="1" height="1" fill="#000000"/>
<path d="M131.70 165.80L134.55 167.87L133.46 171.23L129.94 171.23L128.85 167.87Z" stroke="#000000" stroke-width="1.45" fill="none" stroke-linejoin="miter"/><rect x="131.20" y="168.10" width="1" height="1" fill="#000000"/>
<path d="M182.60 181.90L185.45 183.97L184.36 187.33L180.84 187.33L179.75 183.97Z" stroke="#000000" stroke-width="1.45" fill="none" stroke-linejoin="miter"/><rect x="182.10" y="184.20" width="1" height="1" fill="#000000"/>
<path d="M233.50 196.50L236.35 198.57L235.26 201.93L231.74 201.93L230.65 198.57Z" stroke="#000000" stroke-width="1.45" fill="none" stroke-linejoin="miter"/><rect x="233.00" y="198.80" width="1" height="1" fill="#000000"/>
<path d="M264.00 206.20L266.85 208.27L265.76 211.63L262.24 211.63L261.15 208.27Z" stroke="#000000" stroke-width="1.45" fill="none" stroke-linejoin="miter"/><rect x="263.50" y="208.50" width="1" height="1" fill="#000000"/>
<path d="M284.40 212.10L287.25 214.17L286.16 217.53L282.64 217.53L281.55 214.17Z" stroke="#000000" stroke-width="1.45" fill="none" stroke-linejoin="miter"/><rect x="283.90" y="214.40" width="1" height="1" fill="#000000"/>
<path d="M294.50 215.80L297.35 217.87L296.26 221.23L292.74 221.23L291.65 217.87Z" stroke="#000000" stroke-width="1.45" fill="none" stroke-linejoin="miter"/><rect x="294.00" y="218.10" width="1" height="1" fill="#000000"/>
<path d="M304.70 220.20L307.55 222.27L306.46 225.63L302.94 225.63L301.85 222.27Z" stroke="#000000" stroke-width="1.45" fill="none" stroke-linejoin="miter"/><rect x="304.20" y="222.50" width="1" height="1" fill="#000000"/>
<path d="M314.90 224.10L317.75 226.17L316.66 229.53L313.14 229.53L312.05 226.17Z" stroke="#000000" stroke-width="1.45" fill="none" stroke-linejoin="miter"/><rect x="314.40" y="226.40" width="1" height="1" fill="#000000"/>
<path d="M325.10 229.90L327.95 231.97L326.86 235.33L323.34 235.33L322.25 231.97Z" stroke="#000000" stroke-width="1.45" fill="none" stroke-linejoin="miter"/><rect x="324.60" y="232.20" width="1" height="1" fill="#000000"/>
<path d="M330.10 233.80L332.95 235.87L331.86 239.23L328.34 239.23L327.25 235.87Z" stroke="#000000" stroke-width="1.45" fill="none" stroke-linejoin="miter"/><rect x="329.60" y="236.10" width="1" height="1" fill="#000000"/>
<path d="M80.84 422.05v-7.2M80.84 295.9v7.2M131.72 422.05v-7.2M131.72 295.9v7.2M182.60 422.05v-7.2M182.60 295.9v7.2M233.48 422.05v-7.2M233.48 295.9v7.2M284.35 422.05v-7.2M284.35 295.9v7.2M335.23 422.05v-7.2M335.23 295.9v7.2M386.11 422.05v-7.2M386.11 295.9v7.2M55.4 316.92h7.2M411.55 316.92h-7.2M55.4 337.95h7.2M411.55 337.95h-7.2M55.4 358.97h7.2M411.55 358.97h-7.2M55.4 380.00h7.2M411.55 380.00h-7.2M55.4 401.02h7.2M411.55 401.02h-7.2" stroke="#000" stroke-width="1.25" fill="none"/>
<text transform="translate(48.50,300.00) scale(0.925,1)" text-anchor="end" class="t" font-size="12.2">0</text>
<text transform="translate(48.50,321.02) scale(0.925,1)" text-anchor="end" class="t" font-size="12.2">-0.2</text>
<text transform="translate(48.50,342.05) scale(0.925,1)" text-anchor="end" class="t" font-size="12.2">-0.4</text>
<text transform="translate(48.50,363.07) scale(0.925,1)" text-anchor="end" class="t" font-size="12.2">-0.6</text>
<text transform="translate(48.50,384.10) scale(0.925,1)" text-anchor="end" class="t" font-size="12.2">-0.8</text>
<text transform="translate(48.50,405.12) scale(0.925,1)" text-anchor="end" class="t" font-size="12.2">-1</text>
<text transform="translate(48.50,426.15) scale(0.925,1)" text-anchor="end" class="t" font-size="12.2">-1.2</text>
<path d="M80.8 373.7L111.4 358.6L131.7 348.0L141.9 342.9L152.1 338.8L162.2 331.0L167.3 329.3L172.4 326.7L177.5 325.4L182.6 323.6L192.8 322.8L202.9 322.0L213.1 321.5L233.5 320.5L284.4 317.3" fill="none" stroke="#ff0000" stroke-width="1.15"/>
<rect x="78.25" y="371.15" width="5.1" height="5.1" stroke="#ff0000" stroke-width="1.45" fill="none" stroke-linejoin="miter"/><rect x="80.30" y="373.20" width="1" height="1" fill="#ff0000"/>
<rect x="108.85" y="356.05" width="5.1" height="5.1" stroke="#ff0000" stroke-width="1.45" fill="none" stroke-linejoin="miter"/><rect x="110.90" y="358.10" width="1" height="1" fill="#ff0000"/>
<rect x="129.15" y="345.45" width="5.1" height="5.1" stroke="#ff0000" stroke-width="1.45" fill="none" stroke-linejoin="miter"/><rect x="131.20" y="347.50" width="1" height="1" fill="#ff0000"/>
<rect x="139.35" y="340.35" width="5.1" height="5.1" stroke="#ff0000" stroke-width="1.45" fill="none" stroke-linejoin="miter"/><rect x="141.40" y="342.40" width="1" height="1" fill="#ff0000"/>
<rect x="149.55" y="336.25" width="5.1" height="5.1" stroke="#ff0000" stroke-width="1.45" fill="none" stroke-linejoin="miter"/><rect x="151.60" y="338.30" width="1" height="1" fill="#ff0000"/>
<rect x="159.65" y="328.45" width="5.1" height="5.1" stroke="#ff0000" stroke-width="1.45" fill="none" stroke-linejoin="miter"/><rect x="161.70" y="330.50" width="1" height="1" fill="#ff0000"/>
<rect x="164.75" y="326.75" width="5.1" height="5.1" stroke="#ff0000" stroke-width="1.45" fill="none" stroke-linejoin="miter"/><rect x="166.80" y="328.80" width="1" height="1" fill="#ff0000"/>
<rect x="169.85" y="324.15" width="5.1" height="5.1" stroke="#ff0000" stroke-width="1.45" fill="none" stroke-linejoin="miter"/><rect x="171.90" y="326.20" width="1" height="1" fill="#ff0000"/>
<rect x="174.95" y="322.85" width="5.1" height="5.1" stroke="#ff0000" stroke-width="1.45" fill="none" stroke-linejoin="miter"/><rect x="177.00" y="324.90" width="1" height="1" fill="#ff0000"/>
<rect x="180.05" y="321.05" width="5.1" height="5.1" stroke="#ff0000" stroke-width="1.45" fill="none" stroke-linejoin="miter"/><rect x="182.10" y="323.10" width="1" height="1" fill="#ff0000"/>
<rect x="190.25" y="320.25" width="5.1" height="5.1" stroke="#ff0000" stroke-width="1.45" fill="none" stroke-linejoin="miter"/><rect x="192.30" y="322.30" width="1" height="1" fill="#ff0000"/>
<rect x="200.35" y="319.45" width="5.1" height="5.1" stroke="#ff0000" stroke-width="1.45" fill="none" stroke-linejoin="miter"/><rect x="202.40" y="321.50" width="1" height="1" fill="#ff0000"/>
<rect x="210.55" y="318.95" width="5.1" height="5.1" stroke="#ff0000" stroke-width="1.45" fill="none" stroke-linejoin="miter"/><rect x="212.60" y="321.00" width="1" height="1" fill="#ff0000"/>
<rect x="230.95" y="317.95" width="5.1" height="5.1" stroke="#ff0000" stroke-width="1.45" fill="none" stroke-linejoin="miter"/><rect x="233.00" y="320.00" width="1" height="1" fill="#ff0000"/>
<rect x="281.85" y="314.75" width="5.1" height="5.1" stroke="#ff0000" stroke-width="1.45" fill="none" stroke-linejoin="miter"/><rect x="283.90" y="316.80" width="1" height="1" fill="#ff0000"/>
<path d="M80.8 380.5L111.4 365.3L131.7 355.7L162.2 339.9L172.4 335.6L177.5 331.5L180.1 330.0L182.6 324.3L183.6 323.8L185.1 323.6L187.7 323.3L192.8 322.8L202.9 322.0L213.1 321.5L233.5 320.5" fill="none" stroke="#00c000" stroke-width="1.15" stroke-dasharray="4.7 2.3"/>
<circle cx="80.80" cy="380.50" r="2.65" stroke="#00c000" stroke-width="1.45" fill="none" stroke-linejoin="miter"/><rect x="80.30" y="380.00" width="1" height="1" fill="#00c000"/>
<circle cx="111.40" cy="365.30" r="2.65" stroke="#00c000" stroke-width="1.45" fill="none" stroke-linejoin="miter"/><rect x="110.90" y="364.80" width="1" height="1" fill="#00c000"/>
<circle cx="131.70" cy="355.70" r="2.65" stroke="#00c000" stroke-width="1.45" fill="none" stroke-linejoin="miter"/><rect x="131.20" y="355.20" width="1" height="1" fill="#00c000"/>
<circle cx="162.20" cy="339.90" r="2.65" stroke="#00c000" stroke-width="1.45" fill="none" stroke-linejoin="miter"/><rect x="161.70" y="339.40" width="1" height="1" fill="#00c000"/>
<circle cx="172.40" cy="335.60" r="2.65" stroke="#00c000" stroke-width="1.45" fill="none" stroke-linejoin="miter"/><rect x="171.90" y="335.10" width="1" height="1" fill="#00c000"/>
<circle cx="177.50" cy="331.50" r="2.65" stroke="#00c000" stroke-width="1.45" fill="none" stroke-linejoin="miter"/><rect x="177.00" y="331.00" width="1" height="1" fill="#00c000"/>
<circle cx="180.10" cy="330.00" r="2.65" stroke="#00c000" stroke-width="1.45" fill="none" stroke-linejoin="miter"/><rect x="179.60" y="329.50" width="1" height="1" fill="#00c000"/>
<circle cx="182.60" cy="324.30" r="2.65" stroke="#00c000" stroke-width="1.45" fill="none" stroke-linejoin="miter"/><rect x="182.10" y="323.80" width="1" height="1" fill="#00c000"/>
<circle cx="183.60" cy="323.80" r="2.65" stroke="#00c000" stroke-width="1.45" fill="none" stroke-linejoin="miter"/><rect x="183.10" y="323.30" width="1" height="1" fill="#00c000"/>
<circle cx="185.10" cy="323.60" r="2.65" stroke="#00c000" stroke-width="1.45" fill="none" stroke-linejoin="miter"/><rect x="184.60" y="323.10" width="1" height="1" fill="#00c000"/>
<circle cx="187.70" cy="323.30" r="2.65" stroke="#00c000" stroke-width="1.45" fill="none" stroke-linejoin="miter"/><rect x="187.20" y="322.80" width="1" height="1" fill="#00c000"/>
<circle cx="192.80" cy="322.80" r="2.65" stroke="#00c000" stroke-width="1.45" fill="none" stroke-linejoin="miter"/><rect x="192.30" y="322.30" width="1" height="1" fill="#00c000"/>
<circle cx="202.90" cy="322.00" r="2.65" stroke="#00c000" stroke-width="1.45" fill="none" stroke-linejoin="miter"/><rect x="202.40" y="321.50" width="1" height="1" fill="#00c000"/>
<circle cx="213.10" cy="321.50" r="2.65" stroke="#00c000" stroke-width="1.45" fill="none" stroke-linejoin="miter"/><rect x="212.60" y="321.00" width="1" height="1" fill="#00c000"/>
<circle cx="233.50" cy="320.50" r="2.65" stroke="#00c000" stroke-width="1.45" fill="none" stroke-linejoin="miter"/><rect x="233.00" y="320.00" width="1" height="1" fill="#00c000"/>
<path d="M80.8 384.9L111.4 371.1L131.7 361.4L162.2 347.6L182.6 336.4L189.7 329.9L191.8 328.8L193.8 327.1" fill="none" stroke="#0000ff" stroke-width="1.15" stroke-dasharray="2.4 3.4"/>
<path d="M189.2 323.2L192.8 322.8L202.9 322.0L213.1 321.5L233.5 320.5L284.4 317.3L335.2 315.2L386.1 313.9" fill="none" stroke="#0000ff" stroke-width="1.15" stroke-dasharray="2.4 3.4"/>
<path d="M80.80 382.15L83.35 386.70L78.25 386.70Z" stroke="#0000ff" stroke-width="1.45" fill="none" stroke-linejoin="miter"/><rect x="80.30" y="384.45" width="1" height="1" fill="#0000ff"/>
<path d="M111.40 368.35L113.95 372.90L108.85 372.90Z" stroke="#0000ff" stroke-width="1.45" fill="none" stroke-linejoin="miter"/><rect x="110.90" y="370.65" width="1" height="1" fill="#0000ff"/>
<path d="M131.70 358.55L134.25 363.10L129.15 363.10Z" stroke="#0000ff" stroke-width="1.45" fill="none" stroke-linejoin="miter"/><rect x="131.20" y="360.85" width="1" height="1" fill="#0000ff"/>
<path d="M162.20 344.75L164.75 349.30L159.65 349.30Z" stroke="#0000ff" stroke-width="1.45" fill="none" stroke-linejoin="miter"/><rect x="161.70" y="347.05" width="1" height="1" fill="#0000ff"/>
<path d="M182.60 333.55L185.15 338.10L180.05 338.10Z" stroke="#0000ff" stroke-width="1.45" fill="none" stroke-linejoin="miter"/><rect x="182.10" y="335.85" width="1" height="1" fill="#0000ff"/>
<path d="M189.70 327.15L192.25 331.70L187.15 331.70Z" stroke="#0000ff" stroke-width="1.45" fill="none" stroke-linejoin="miter"/><rect x="189.20" y="329.45" width="1" height="1" fill="#0000ff"/>
<path d="M191.80 325.95L194.35 330.50L189.25 330.50Z" stroke="#0000ff" stroke-width="1.45" fill="none" stroke-linejoin="miter"/><rect x="191.30" y="328.25" width="1" height="1" fill="#0000ff"/>
<path d="M193.80 324.35L196.35 328.90L191.25 328.90Z" stroke="#0000ff" stroke-width="1.45" fill="none" stroke-linejoin="miter"/><rect x="193.30" y="326.65" width="1" height="1" fill="#0000ff"/>
<path d="M189.20 320.40L191.75 324.95L186.65 324.95Z" stroke="#0000ff" stroke-width="1.45" fill="none" stroke-linejoin="miter"/><rect x="188.70" y="322.70" width="1" height="1" fill="#0000ff"/>
<path d="M192.80 320.00L195.35 324.55L190.25 324.55Z" stroke="#0000ff" stroke-width="1.45" fill="none" stroke-linejoin="miter"/><rect x="192.30" y="322.30" width="1" height="1" fill="#0000ff"/>
<path d="M202.90 319.20L205.45 323.75L200.35 323.75Z" stroke="#0000ff" stroke-width="1.45" fill="none" stroke-linejoin="miter"/><rect x="202.40" y="321.50" width="1" height="1" fill="#0000ff"/>
<path d="M213.10 318.70L215.65 323.25L210.55 323.25Z" stroke="#0000ff" stroke-width="1.45" fill="none" stroke-linejoin="miter"/><rect x="212.60" y="321.00" width="1" height="1" fill="#0000ff"/>
<path d="M233.50 317.70L236.05 322.25L230.95 322.25Z" stroke="#0000ff" stroke-width="1.45" fill="none" stroke-linejoin="miter"/><rect x="233.00" y="320.00" width="1" height="1" fill="#0000ff"/>
<path d="M284.40 314.50L286.95 319.05L281.85 319.05Z" stroke="#0000ff" stroke-width="1.45" fill="none" stroke-linejoin="miter"/><rect x="283.90" y="316.80" width="1" height="1" fill="#0000ff"/>
<path d="M335.20 312.45L337.75 317.00L332.65 317.00Z" stroke="#0000ff" stroke-width="1.45" fill="none" stroke-linejoin="miter"/><rect x="334.70" y="314.75" width="1" height="1" fill="#0000ff"/>
<path d="M386.10 311.15L388.65 315.70L383.55 315.70Z" stroke="#0000ff" stroke-width="1.45" fill="none" stroke-linejoin="miter"/><rect x="385.60" y="313.45" width="1" height="1" fill="#0000ff"/>
<path d="M80.8 399.8L131.7 377.8L182.6 360.5L192.8 355.9L202.9 352.1L213.1 347.5L223.3 343.4L233.5 340.1L243.7 334.5L248.7 331.4L252.3 329.7" fill="none" stroke="#ff00ff" stroke-width="1.15" stroke-dasharray="1.2 1.7"/>
<path d="M197.9 322.0L202.9 322.0L213.1 321.5L233.5 320.5L284.4 317.3" fill="none" stroke="#ff00ff" stroke-width="1.15" stroke-dasharray="1.2 1.7"/>
<path d="M80.80 402.95L83.75 398.45L77.85 398.45Z" stroke="#ff00ff" stroke-width="1.45" fill="none" stroke-linejoin="miter"/><rect x="80.30" y="399.30" width="1" height="1" fill="#ff00ff"/>
<path d="M131.70 380.95L134.65 376.45L128.75 376.45Z" stroke="#ff00ff" stroke-width="1.45" fill="none" stroke-linejoin="miter"/><rect x="131.20" y="377.30" width="1" height="1" fill="#ff00ff"/>
<path d="M182.60 363.65L185.55 359.15L179.65 359.15Z" stroke="#ff00ff" stroke-width="1.45" fill="none" stroke-linejoin="miter"/><rect x="182.10" y="360.00" width="1" height="1" fill="#ff00ff"/>
<path d="M192.80 359.05L195.75 354.55L189.85 354.55Z" stroke="#ff00ff" stroke-width="1.45" fill="none" stroke-linejoin="miter"/><rect x="192.30" y="355.40" width="1" height="1" fill="#ff00ff"/>
<path d="M202.90 355.25L205.85 350.75L199.95 350.75Z" stroke="#ff00ff" stroke-width="1.45" fill="none" stroke-linejoin="miter"/><rect x="202.40" y="351.60" width="1" height="1" fill="#ff00ff"/>
<path d="M213.10 350.65L216.05 346.15L210.15 346.15Z" stroke="#ff00ff" stroke-width="1.45" fill="none" stroke-linejoin="miter"/><rect x="212.60" y="347.00" width="1" height="1" fill="#ff00ff"/>
<path d="M223.30 346.55L226.25 342.05L220.35 342.05Z" stroke="#ff00ff" stroke-width="1.45" fill="none" stroke-linejoin="miter"/><rect x="222.80" y="342.90" width="1" height="1" fill="#ff00ff"/>
<path d="M233.50 343.25L236.45 338.75L230.55 338.75Z" stroke="#ff00ff" stroke-width="1.45" fill="none" stroke-linejoin="miter"/><rect x="233.00" y="339.60" width="1" height="1" fill="#ff00ff"/>
<path d="M243.70 337.65L246.65 333.15L240.75 333.15Z" stroke="#ff00ff" stroke-width="1.45" fill="none" stroke-linejoin="miter"/><rect x="243.20" y="334.00" width="1" height="1" fill="#ff00ff"/>
<path d="M248.70 334.55L251.65 330.05L245.75 330.05Z" stroke="#ff00ff" stroke-width="1.45" fill="none" stroke-linejoin="miter"/><rect x="248.20" y="330.90" width="1" height="1" fill="#ff00ff"/>
<path d="M252.30 332.85L255.25 328.35L249.35 328.35Z" stroke="#ff00ff" stroke-width="1.45" fill="none" stroke-linejoin="miter"/><rect x="251.80" y="329.20" width="1" height="1" fill="#ff00ff"/>
<path d="M197.90 325.15L200.85 320.65L194.95 320.65Z" stroke="#ff00ff" stroke-width="1.45" fill="none" stroke-linejoin="miter"/><rect x="197.40" y="321.50" width="1" height="1" fill="#ff00ff"/>
<path d="M202.90 325.15L205.85 320.65L199.95 320.65Z" stroke="#ff00ff" stroke-width="1.45" fill="none" stroke-linejoin="miter"/><rect x="202.40" y="321.50" width="1" height="1" fill="#ff00ff"/>
<path d="M213.10 324.65L216.05 320.15L210.15 320.15Z" stroke="#ff00ff" stroke-width="1.45" fill="none" stroke-linejoin="miter"/><rect x="212.60" y="321.00" width="1" height="1" fill="#ff00ff"/>
<path d="M233.50 323.65L236.45 319.15L230.55 319.15Z" stroke="#ff00ff" stroke-width="1.45" fill="none" stroke-linejoin="miter"/><rect x="233.00" y="320.00" width="1" height="1" fill="#ff00ff"/>
<path d="M284.40 320.45L287.35 315.95L281.45 315.95Z" stroke="#ff00ff" stroke-width="1.45" fill="none" stroke-linejoin="miter"/><rect x="283.90" y="316.80" width="1" height="1" fill="#ff00ff"/>
<path d="M80.8 406.3L131.7 385.3L182.6 368.1L233.5 348.2L264.0 337.3L284.4 331.8L289.4 330.6" fill="none" stroke="#00c0c0" stroke-width="1.15" stroke-dasharray="7.0 2.3 1.2 2.3"/>
<path d="M202.9 322.0L213.1 321.5L233.5 320.5L284.4 317.3" fill="none" stroke="#00c0c0" stroke-width="1.15" stroke-dasharray="7.0 2.3 1.2 2.3"/>
<path d="M80.80 403.20L83.55 406.30L80.80 409.40L78.05 406.30Z" stroke="#00c0c0" stroke-width="1.45" fill="none" stroke-linejoin="miter"/><rect x="80.30" y="405.80" width="1" height="1" fill="#00c0c0"/>
<path d="M131.70 382.20L134.45 385.30L131.70 388.40L128.95 385.30Z" stroke="#00c0c0" stroke-width="1.45" fill="none" stroke-linejoin="miter"/><rect x="131.20" y="384.80" width="1" height="1" fill="#00c0c0"/>
<path d="M182.60 365.00L185.35 368.10L182.60 371.20L179.85 368.10Z" stroke="#00c0c0" stroke-width="1.45" fill="none" stroke-linejoin="miter"/><rect x="182.10" y="367.60" width="1" height="1" fill="#00c0c0"/>
<path d="M233.50 345.10L236.25 348.20L233.50 351.30L230.75 348.20Z" stroke="#00c0c0" stroke-width="1.45" fill="none" stroke-linejoin="miter"/><rect x="233.00" y="347.70" width="1" height="1" fill="#00c0c0"/>
<path d="M264.00 334.20L266.75 337.30L264.00 340.40L261.25 337.30Z" stroke="#00c0c0" stroke-width="1.45" fill="none" stroke-linejoin="miter"/><rect x="263.50" y="336.80" width="1" height="1" fill="#00c0c0"/>
<path d="M284.40 328.70L287.15 331.80L284.40 334.90L281.65 331.80Z" stroke="#00c0c0" stroke-width="1.45" fill="none" stroke-linejoin="miter"/><rect x="283.90" y="331.30" width="1" height="1" fill="#00c0c0"/>
<path d="M289.40 327.50L292.15 330.60L289.40 333.70L286.65 330.60Z" stroke="#00c0c0" stroke-width="1.45" fill="none" stroke-linejoin="miter"/><rect x="288.90" y="330.10" width="1" height="1" fill="#00c0c0"/>
<path d="M202.90 318.90L205.65 322.00L202.90 325.10L200.15 322.00Z" stroke="#00c0c0" stroke-width="1.45" fill="none" stroke-linejoin="miter"/><rect x="202.40" y="321.50" width="1" height="1" fill="#00c0c0"/>
<path d="M213.10 318.40L215.85 321.50L213.10 324.60L210.35 321.50Z" stroke="#00c0c0" stroke-width="1.45" fill="none" stroke-linejoin="miter"/><rect x="212.60" y="321.00" width="1" height="1" fill="#00c0c0"/>
<path d="M233.50 317.40L236.25 320.50L233.50 323.60L230.75 320.50Z" stroke="#00c0c0" stroke-width="1.45" fill="none" stroke-linejoin="miter"/><rect x="233.00" y="320.00" width="1" height="1" fill="#00c0c0"/>
<path d="M284.40 314.20L287.15 317.30L284.40 320.40L281.65 317.30Z" stroke="#00c0c0" stroke-width="1.45" fill="none" stroke-linejoin="miter"/><rect x="283.90" y="316.80" width="1" height="1" fill="#00c0c0"/>
<path d="M80.8 409.9L131.7 387.0L182.6 370.1L233.5 353.0L264.0 347.5L284.4 340.5L294.5 335.7L304.7 331.2L314.9 329.5L325.1 324.8L330.1 324.5" fill="none" stroke="#000000" stroke-width="1.15" stroke-dasharray="2.4 2.2 2.4 6.9"/>
<path d="M80.80 407.10L83.65 409.17L82.56 412.53L79.04 412.53L77.95 409.17Z" stroke="#000000" stroke-width="1.45" fill="none" stroke-linejoin="miter"/><rect x="80.30" y="409.40" width="1" height="1" fill="#000000"/>
<path d="M131.70 384.20L134.55 386.27L133.46 389.63L129.94 389.63L128.85 386.27Z" stroke="#000000" stroke-width="1.45" fill="none" stroke-linejoin="miter"/><rect x="131.20" y="386.50" width="1" height="1" fill="#000000"/>
<path d="M182.60 367.30L185.45 369.37L184.36 372.73L180.84 372.73L179.75 369.37Z" stroke="#000000" stroke-width="1.45" fill="none" stroke-linejoin="miter"/><rect x="182.10" y="369.60" width="1" height="1" fill="#000000"/>
<path d="M233.50 350.20L236.35 352.27L235.26 355.63L231.74 355.63L230.65 352.27Z" stroke="#000000" stroke-width="1.45" fill="none" stroke-linejoin="miter"/><rect x="233.00" y="352.50" width="1" height="1" fill="#000000"/>
<path d="M264.00 344.70L266.85 346.77L265.76 350.13L262.24 350.13L261.15 346.77Z" stroke="#000000" stroke-width="1.45" fill="none" stroke-linejoin="miter"/><rect x="263.50" y="347.00" width="1" height="1" fill="#000000"/>
<path d="M284.40 337.70L287.25 339.77L286.16 343.13L282.64 343.13L281.55 339.77Z" stroke="#000000" stroke-width="1.45" fill="none" stroke-linejoin="miter"/><rect x="283.90" y="340.00" width="1" height="1" fill="#000000"/>
<path d="M294.50 332.90L297.35 334.97L296.26 338.33L292.74 338.33L291.65 334.97Z" stroke="#000000" stroke-width="1.45" fill="none" stroke-linejoin="miter"/><rect x="294.00" y="335.20" width="1" height="1" fill="#000000"/>
<path d="M304.70 328.40L307.55 330.47L306.46 333.83L302.94 333.83L301.85 330.47Z" stroke="#000000" stroke-width="1.45" fill="none" stroke-linejoin="miter"/><rect x="304.20" y="330.70" width="1" height="1" fill="#000000"/>
<path d="M314.90 326.70L317.75 328.77L316.66 332.13L313.14 332.13L312.05 328.77Z" stroke="#000000" stroke-width="1.45" fill="none" stroke-linejoin="miter"/><rect x="314.40" y="329.00" width="1" height="1" fill="#000000"/>
<path d="M325.10 322.00L327.95 324.07L326.86 327.43L323.34 327.43L322.25 324.07Z" stroke="#000000" stroke-width="1.45" fill="none" stroke-linejoin="miter"/><rect x="324.60" y="324.30" width="1" height="1" fill="#000000"/>
<path d="M330.10 321.70L332.95 323.77L331.86 327.13L328.34 327.13L327.25 323.77Z" stroke="#000000" stroke-width="1.45" fill="none" stroke-linejoin="miter"/><rect x="329.60" y="324.00" width="1" height="1" fill="#000000"/>
<rect x="55.4" y="11.4" width="356.15000000000003" height="125.25" fill="none" stroke="#000" stroke-width="1.35"/>
<rect x="55.4" y="153.45" width="356.15000000000003" height="125.60000000000002" fill="none" stroke="#000" stroke-width="1.35"/>
<rect x="55.4" y="295.9" width="356.15000000000003" height="126.15000000000003" fill="none" stroke="#000" stroke-width="1.35"/>
<text transform="translate(81.84,437.80) scale(0.925,1)" text-anchor="middle" class="t" font-size="12.2">6</text>
<text transform="translate(132.72,437.80) scale(0.925,1)" text-anchor="middle" class="t" font-size="12.2">7</text>
<text transform="translate(183.60,437.80) scale(0.925,1)" text-anchor="middle" class="t" font-size="12.2">8</text>
<text transform="translate(234.48,437.80) scale(0.925,1)" text-anchor="middle" class="t" font-size="12.2">9</text>
<text transform="translate(285.35,437.80) scale(0.925,1)" text-anchor="middle" class="t" font-size="12.2">10</text>
<text transform="translate(336.23,437.80) scale(0.925,1)" text-anchor="middle" class="t" font-size="12.2">11</text>
<text transform="translate(387.11,437.80) scale(0.925,1)" text-anchor="middle" class="t" font-size="12.2">12</text>
<text x="233.8" y="454.8" text-anchor="middle" class="t" font-size="12">U</text>
<text transform="translate(11.8,74) rotate(-90)" text-anchor="middle" class="t" font-size="12">Z</text>
<text transform="translate(11.8,216.3) rotate(-90)" text-anchor="middle" class="t" font-size="12">D - 6</text>
<text transform="translate(11.8,358.4) rotate(-90)" text-anchor="middle" class="t" font-size="12">E - 6 U</text>
<text x="356.6" y="40.0" class="t" font-size="15">M = 4</text>
<text word-spacing="-0.35" transform="translate(265.00,380.65) scale(0.925,1)" text-anchor="end" class="t" font-size="12.2">T = 0.250</text>
<path d="M272.2 376.3H297.0" stroke="#ff0000" stroke-width="1.15" fill="none"/>
<rect x="282.05" y="373.75" width="5.1" height="5.1" stroke="#ff0000" stroke-width="1.45" fill="none" stroke-linejoin="miter"/><rect x="284.10" y="375.80" width="1" height="1" fill="#ff0000"/>
<text word-spacing="-0.35" transform="translate(265.00,395.95) scale(0.925,1)" text-anchor="end" class="t" font-size="12.2">T = 0.222</text>
<path d="M272.2 391.6H297.0" stroke="#00c000" stroke-width="1.15" fill="none" stroke-dasharray="4.7 2.3"/>
<circle cx="284.60" cy="391.60" r="2.65" stroke="#00c000" stroke-width="1.45" fill="none" stroke-linejoin="miter"/><rect x="284.10" y="391.10" width="1" height="1" fill="#00c000"/>
<text word-spacing="-0.35" transform="translate(265.00,411.15) scale(0.925,1)" text-anchor="end" class="t" font-size="12.2">T = 0.200</text>
<path d="M272.2 406.8H297.0" stroke="#0000ff" stroke-width="1.15" fill="none" stroke-dasharray="2.4 3.4"/>
<path d="M284.60 404.00L287.15 408.55L282.05 408.55Z" stroke="#0000ff" stroke-width="1.45" fill="none" stroke-linejoin="miter"/><rect x="284.10" y="406.30" width="1" height="1" fill="#0000ff"/>
<text word-spacing="-0.35" transform="translate(366.30,380.65) scale(0.925,1)" text-anchor="end" class="t" font-size="12.2">T = 0.133</text>
<path d="M373.0 376.3H397.8" stroke="#ff00ff" stroke-width="1.15" fill="none" stroke-dasharray="1.2 1.7"/>
<path d="M385.30 379.45L388.25 374.95L382.35 374.95Z" stroke="#ff00ff" stroke-width="1.45" fill="none" stroke-linejoin="miter"/><rect x="384.80" y="375.80" width="1" height="1" fill="#ff00ff"/>
<text word-spacing="-0.35" transform="translate(366.30,395.95) scale(0.925,1)" text-anchor="end" class="t" font-size="12.2">T = 0.100</text>
<path d="M373.0 391.6H397.8" stroke="#00c0c0" stroke-width="1.15" fill="none" stroke-dasharray="7.0 2.3 1.2 2.3"/>
<path d="M385.30 388.50L388.05 391.60L385.30 394.70L382.55 391.60Z" stroke="#00c0c0" stroke-width="1.45" fill="none" stroke-linejoin="miter"/><rect x="384.80" y="391.10" width="1" height="1" fill="#00c0c0"/>
<text word-spacing="-0.35" transform="translate(366.30,411.15) scale(0.925,1)" text-anchor="end" class="t" font-size="12.2">T = 0.080</text>
<path d="M373.0 406.8H397.8" stroke="#000000" stroke-width="1.15" fill="none" stroke-dasharray="2.4 2.2 2.4 6.9"/>
<path d="M385.30 404.00L388.15 406.07L387.06 409.43L383.54 409.43L382.45 406.07Z" stroke="#000000" stroke-width="1.45" fill="none" stroke-linejoin="miter"/><rect x="384.80" y="406.30" width="1" height="1" fill="#000000"/>
</svg>
</body></html>
